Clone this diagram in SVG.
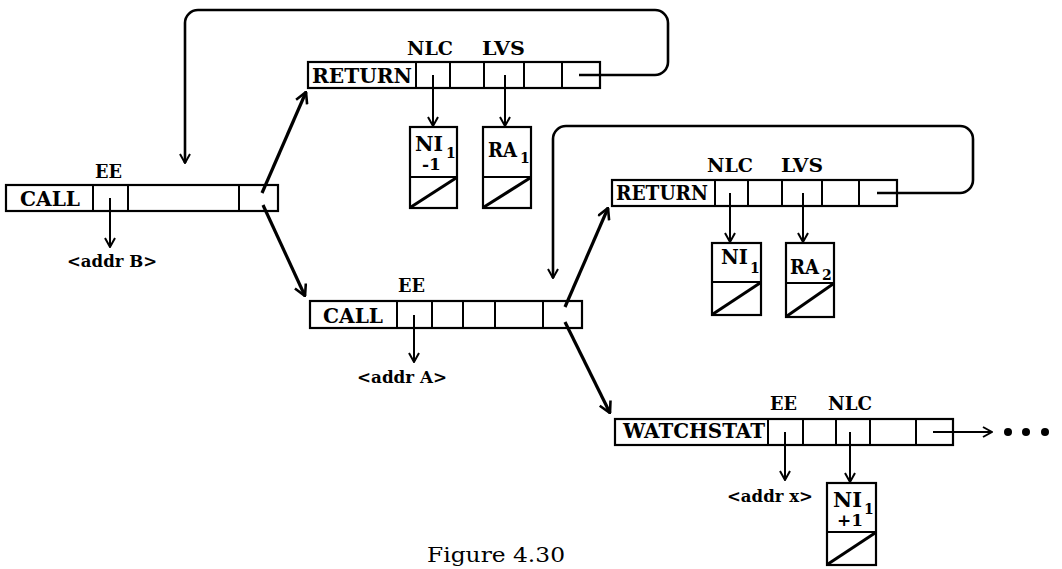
<svg xmlns="http://www.w3.org/2000/svg" width="1062" height="569" viewBox="0 0 1062 569">
<style>
.bar{fill:#fff;stroke:#000;stroke-width:2.2}
.div{stroke:#000;stroke-width:2}
.dg{stroke:#000;stroke-width:3}
.box{fill:#fff;stroke:#000;stroke-width:2.2}
.t{font-family:"DejaVu Serif","Liberation Serif",serif;font-weight:bold;fill:#000}
.lbl{font-size:20px}
.fld{font-size:18px}
.adr{font-size:17px}
.ni{font-size:21px}
.sub{font-size:14px}
.ptr{fill:none;stroke:#000;stroke-width:2}
.diag{fill:none;stroke:#000;stroke-width:3.2}
.loop{fill:none;stroke:#000;stroke-width:2.6}
</style>
<defs>
<marker id="ah" viewBox="0 0 12 12" refX="11" refY="6" markerWidth="12" markerHeight="12" markerUnits="userSpaceOnUse" orient="auto">
<path d="M2,1 L11,6 L2,11" fill="none" stroke="#000" stroke-width="2"/>
</marker>
<marker id="ahb" viewBox="0 0 14 14" refX="13" refY="7" markerWidth="14" markerHeight="14" markerUnits="userSpaceOnUse" orient="auto">
<path d="M2,1 L13,7 L2,13" fill="none" stroke="#000" stroke-width="2.6"/>
</marker>
</defs>
<rect width="1062" height="569" fill="#fff"/>

<g id="call1">
<rect class="bar" x="6" y="185" width="272" height="26"/>
<path class="div" d="M93,185V211M128,185V211M239,185V211"/>
<text class="t lbl" x="20" y="206" textLength="60" lengthAdjust="spacingAndGlyphs">CALL</text>
<text class="t fld" x="95" y="178" textLength="27" lengthAdjust="spacingAndGlyphs">EE</text>
</g>
<g id="addrB"><text class="t adr" x="67" y="267" textLength="90" lengthAdjust="spacingAndGlyphs">&lt;addr B&gt;</text></g>

<g id="return1">
<rect class="bar" x="308" y="62" width="292" height="26"/>
<path class="div" d="M416,62V88M450,62V88M484,62V88M524,62V88M562,62V88"/>
<text class="t lbl" x="312" y="83" textLength="100" lengthAdjust="spacingAndGlyphs">RETURN</text>
<text class="t fld" x="407" y="55" textLength="46" lengthAdjust="spacingAndGlyphs">NLC</text>
<text class="t fld" x="482" y="55" textLength="43" lengthAdjust="spacingAndGlyphs">LVS</text>
</g>
<g id="ni1m1">
<rect class="box" x="410" y="127" width="47" height="81"/>
<path class="div" d="M410,177H457"/><path class="dg" d="M411,207L456,178"/>
<text class="t ni" x="415" y="151" textLength="28" lengthAdjust="spacingAndGlyphs">NI</text>
<text class="t sub" x="446" y="158">1</text>
<text class="t adr" x="422" y="170">-1</text>
</g>
<g id="ra1">
<rect class="box" x="483" y="127" width="48" height="81"/>
<path class="div" d="M483,177H531"/><path class="dg" d="M484,207L530,178"/>
<text class="t ni" x="488" y="157" textLength="29" lengthAdjust="spacingAndGlyphs">RA</text>
<text class="t sub" x="520" y="163">1</text>
</g>

<g id="return2">
<rect class="bar" x="612" y="180" width="285" height="26"/>
<path class="div" d="M715,180V206M748,180V206M782,180V206M822,180V206M859,180V206"/>
<text class="t lbl" x="616" y="200" textLength="92" lengthAdjust="spacingAndGlyphs">RETURN</text>
<text class="t fld" x="707" y="172" textLength="46" lengthAdjust="spacingAndGlyphs">NLC</text>
<text class="t fld" x="781" y="172" textLength="42" lengthAdjust="spacingAndGlyphs">LVS</text>
</g>
<g id="ni1">
<rect class="box" x="712" y="243" width="49" height="72"/>
<path class="div" d="M712,282H761"/><path class="dg" d="M713,314L760,283"/>
<text class="t ni" x="721" y="264" textLength="27" lengthAdjust="spacingAndGlyphs">NI</text>
<text class="t sub" x="750" y="273">1</text>
</g>
<g id="ra2">
<rect class="box" x="786" y="243" width="48" height="74"/>
<path class="div" d="M786,283H834"/><path class="dg" d="M787,316L833,284"/>
<text class="t ni" x="790" y="274" textLength="29" lengthAdjust="spacingAndGlyphs">RA</text>
<text class="t sub" x="822" y="280">2</text>
</g>

<g id="call2">
<rect class="bar" x="310" y="301" width="272" height="27"/>
<path class="div" d="M397,301V328M432,301V328M463,301V328M495,301V328M543,301V328"/>
<text class="t lbl" x="323" y="323" textLength="60" lengthAdjust="spacingAndGlyphs">CALL</text>
<text class="t fld" x="398" y="292" textLength="27" lengthAdjust="spacingAndGlyphs">EE</text>
</g>
<g id="addrA"><text class="t adr" x="357" y="383" textLength="90" lengthAdjust="spacingAndGlyphs">&lt;addr A&gt;</text></g>

<g id="watchstat">
<rect class="bar" x="615" y="419" width="338" height="26"/>
<path class="div" d="M768,419V445M803,419V445M836,419V445M870,419V445M916,419V445"/>
<text class="t lbl" x="623" y="438" textLength="142" lengthAdjust="spacingAndGlyphs">WATCHSTAT</text>
<text class="t fld" x="770" y="410" textLength="27" lengthAdjust="spacingAndGlyphs">EE</text>
<text class="t fld" x="828" y="410" textLength="44" lengthAdjust="spacingAndGlyphs">NLC</text>
</g>
<g id="addrx"><text class="t adr" x="727" y="502" textLength="86" lengthAdjust="spacingAndGlyphs">&lt;addr x&gt;</text></g>
<g id="ni1p1">
<rect class="box" x="827" y="483" width="49" height="82"/>
<path class="div" d="M827,532H876"/><path class="dg" d="M828,564L875,533"/>
<text class="t ni" x="833" y="507" textLength="29" lengthAdjust="spacingAndGlyphs">NI</text>
<text class="t sub" x="864" y="514">1</text>
<text class="t adr" x="837" y="526">+1</text>
</g>
<g id="dots">
<circle cx="1008" cy="432" r="4"/><circle cx="1026" cy="432" r="4"/><circle cx="1045" cy="432" r="4"/>
</g>

<g id="connectors">
<path class="ptr" d="M110,198V247" marker-end="url(#ah)"/>
<path class="ptr" d="M433,75V126" marker-end="url(#ah)"/>
<path class="ptr" d="M505,75V126" marker-end="url(#ah)"/>
<path class="ptr" d="M730,193V242" marker-end="url(#ah)"/>
<path class="ptr" d="M803,193V242" marker-end="url(#ah)"/>
<path class="ptr" d="M414,315V362" marker-end="url(#ah)"/>
<path class="ptr" d="M785,432V480" marker-end="url(#ah)"/>
<path class="ptr" d="M850,432V482" marker-end="url(#ah)"/>
<path class="ptr" d="M933,432H992" marker-end="url(#ah)"/>
<path class="loop" d="M579,75H655A13,13 0 0 0 668,62V23A13,13 0 0 0 655,10H198A13,13 0 0 0 185,23V163" marker-end="url(#ah)"/>
<path class="loop" d="M877,193H960A13,13 0 0 0 973,180V139A13,13 0 0 0 960,126H566A13,13 0 0 0 553,139V278" marker-end="url(#ah)"/>
<path class="diag" d="M262,193L306,92" marker-end="url(#ahb)"/>
<path class="diag" d="M263,205L305,296" marker-end="url(#ahb)"/>
<path class="diag" d="M565,307L608,208" marker-end="url(#ahb)"/>
<path class="diag" d="M565,322L610,413" marker-end="url(#ahb)"/>
</g>

<g id="caption"><text font-family="DejaVu Serif, Liberation Serif, serif" font-size="20" x="427" y="562" textLength="138" lengthAdjust="spacingAndGlyphs">Figure 4.30</text></g>
</svg>
